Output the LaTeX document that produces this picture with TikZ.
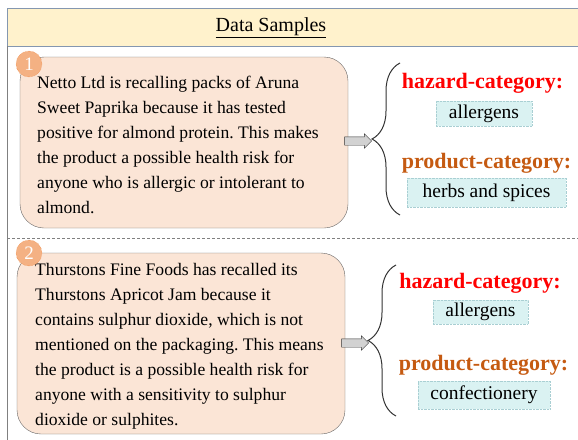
\documentclass[tikz,border=0pt]{standalone}
\usepackage{fontspec}
\setmainfont{Liberation Serif}
\usetikzlibrary{positioning, shapes.arrows, decorations.pathreplacing}

\definecolor{headfill}{HTML}{FFF2CC}
\definecolor{headline}{HTML}{8497B0}
\definecolor{samplefill}{HTML}{FBE5D6}
\definecolor{badgefill}{HTML}{F4B183}
\definecolor{badgeline}{HTML}{ED7D31}
\definecolor{valuefill}{HTML}{DAF2F2}
\definecolor{valueline}{HTML}{A9CFD3}
\definecolor{productcol}{HTML}{C55A11}

\frenchspacing
\begin{document}
\begin{tikzpicture}[x=1pt,y=-1pt,
  sample node/.style={draw=gray!80!black, fill=samplefill, rounded corners=24pt, inner sep=0pt},
  sample text/.style={align=left, inner sep=0pt, font=\fontsize{17.6}{25}\selectfont},
  badge node/.style={circle, draw=badgeline, densely dotted, fill=badgefill, text=white, minimum size=26pt, inner sep=0pt, font=\fontsize{19}{19}\selectfont},
  label node/.style={font=\bfseries\fontsize{22}{22}\selectfont},
  value node/.style={draw=valueline, densely dotted, fill=valuefill, inner sep=0pt, font=\fontsize{19.5}{20}\selectfont},
  flow arrow/.style={single arrow, draw=black!80, fill=gray!35, minimum height=27pt, minimum width=14pt, inner sep=4pt, single arrow head extend=3pt},
  cat brace/.style={decorate, decoration={brace, amplitude=28pt}, line width=1pt, draw=black!80}]

  \useasboundingbox (0,0) rectangle (578,439);

  % header band and frame
  \draw[headline, fill=headfill] (7,8) rectangle (590,46);
  \draw[gray] (7,46) -- (7,445);
  \node (title) at (271,28) {\fontsize{20}{20}\selectfont\underline{Data Samples}};
  \draw[gray, dash pattern=on 3pt off 2pt] (7,238) -- (578,238);

  % first sample
  \node[sample node, minimum width=328pt, minimum height=171pt] (s1) at (184,142.5) {};
  \node[sample text, anchor=west] (t1) at (37,145)
    {Netto Ltd is recalling packs of Aruna\\
     Sweet Paprika because it has tested\\
     positive for almond protein. This makes\\
     the product a possible health risk for\\
     anyone who is allergic or intolerant to\\
     almond.};
  \node[badge node] (n1) at (29,64) {1};
  \node[flow arrow] (a1) at (356,141) {};
  \coordinate (b1top) at (400,63);
  \coordinate (b1bot) at (400,215);
  \draw[cat brace] (b1bot) -- (b1top);
  \node[label node, text=red] (h1) at (482.5,83) {hazard-category:};
  \node[value node, minimum width=96pt, minimum height=25pt] (v1) at (484,113.5) {allergens};
  \node[label node, text=productcol] (p1) at (486.5,163) {product-category:};
  \node[value node, minimum width=159pt, minimum height=29pt] (w1) at (486.5,192.5) {herbs and spices};

  % second sample
  \node[sample node, minimum width=328pt, minimum height=181pt] (s2) at (181,343.5) {};
  \node[sample text, anchor=west] (t2) at (35,346)
    {Thurstons Fine Foods has recalled its\\
     Thurstons Apricot Jam because it\\
     contains sulphur dioxide, which is not\\
     mentioned on the packaging. This means\\
     the product is a possible health risk for\\
     anyone with a sensitivity to sulphur\\
     dioxide or sulphites.};
  \node[badge node] (n2) at (29,253) {2};
  \node[flow arrow] (a2) at (353,343) {};
  \coordinate (b2top) at (396,265);
  \coordinate (b2bot) at (396,416);
  \draw[cat brace] (b2bot) -- (b2top);
  \node[label node, text=red] (h2) at (480,283) {hazard-category:};
  \node[value node, minimum width=95pt, minimum height=24pt] (v2) at (480.5,312) {allergens};
  \node[label node, text=productcol] (p2) at (483.5,365) {product-category:};
  \node[value node, minimum width=132pt, minimum height=28pt] (w2) at (484,395) {confectionery};
\end{tikzpicture}
\end{document}
